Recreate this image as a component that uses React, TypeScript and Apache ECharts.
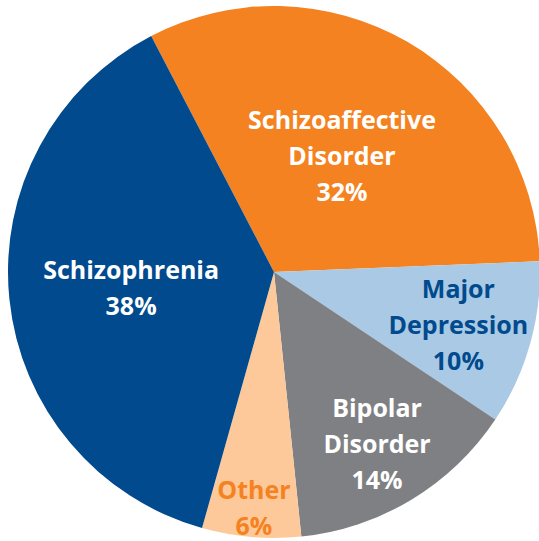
import React, { useEffect, useRef } from "react";
import * as echarts from "echarts";

const categories = ["Schizoaffective\nDisorder", "Major\nDepression", "Bipolar\nDisorder", "Other", "Schizophrenia"];
const values = [32, 10, 14, 6, 38];
const sliceColors = ["#F58220", "#A9C9E4", "#7F8083", "#FDC99A", "#004A8D"];
const labelColors = ["#FFFFFF", "#004A8D", "#FFFFFF", "#F58220", "#FFFFFF"];
const labelRadiusFraction = [0.51, 0.72, 0.75, 0.885, 0.54];

export default function App() {
  const ref = useRef<HTMLDivElement>(null);
  useEffect(() => {
    if (!ref.current) return;
    const chart = echarts.init(ref.current, null, { renderer: "svg" });
    const cx = 274;
    const cy = 272;
    const R = 266;
    const startAngle = 117.5;
    const total = values.reduce((a, b) => a + b, 0);
    const midAngles: number[] = [];
    let acc = 0;
    values.forEach((v) => {
      const mid = acc + v / 2;
      midAngles.push((90 - startAngle) + (mid / total) * 360);
      acc += v;
    });
    chart.setOption({
      animation: false,
      series: [
        {
          type: "pie",
          center: [cx, cy],
          radius: [0, R],
          startAngle,
          clockwise: true,
          avoidLabelOverlap: false,
          label: {
            show: true,
            position: "inside",
            fontFamily: "Open Sans",
            fontWeight: "bold",
            fontSize: 25,
            lineHeight: 36,
            align: "center",
            formatter: (p: any) => `${p.name}\n${p.value}%`,
          },
          labelLine: { show: false },
          labelLayout: (params: any) => {
            const i = params.dataIndex;
            const a = (midAngles[i] * Math.PI) / 180;
            const r = R * labelRadiusFraction[i];
            return {
              x: cx + r * Math.sin(a),
              y: cy - r * Math.cos(a),
              align: "center",
              verticalAlign: "middle",
            };
          },
          data: categories.map((name, i) => ({
            name,
            value: values[i],
            itemStyle: { color: sliceColors[i] },
            label: { color: labelColors[i] },
          })),
        },
      ],
    });
    return () => chart.dispose();
  }, []);
  return (
    <div
      ref={ref}
      style={{ position: "absolute", left: 0, top: 0, width: 539, height: 541 }}
    />
  );
}
